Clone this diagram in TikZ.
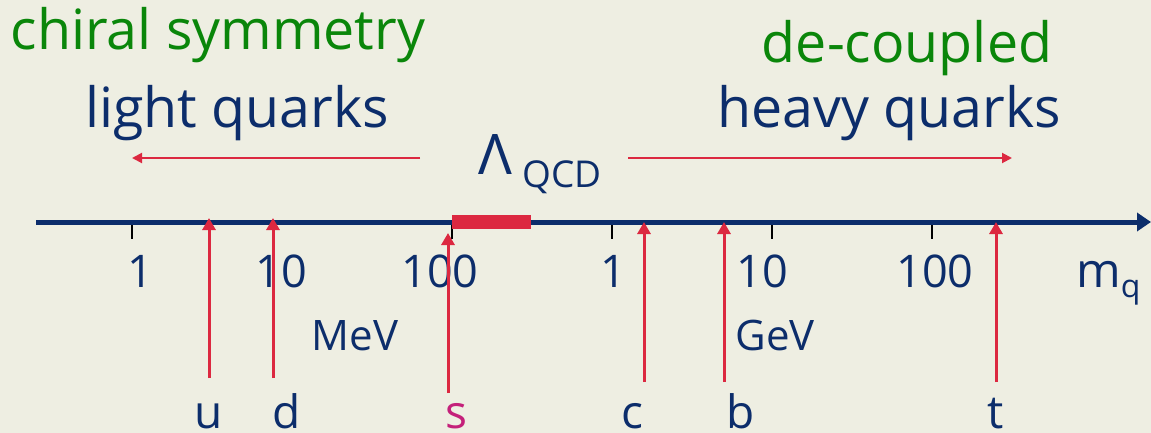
\documentclass[tikz,border=0pt]{standalone}
\usepackage{fontspec}
\setmainfont{Open Sans}
\usetikzlibrary{arrows.meta}
\definecolor{bg}{RGB}{238,238,226}
\definecolor{navy}{RGB}{12,45,107}
\definecolor{dgreen}{RGB}{10,134,10}
\definecolor{qred}{RGB}{220,40,64}
\definecolor{qmag}{RGB}{196,32,122}
\newcommand{\fs}[1]{\fontsize{#1}{#1}\selectfont}
\tikzset{
  axisline/.style={draw=navy, line width=5pt, -{Triangle[length=14pt,width=18pt]}},
  tickmark/.style={draw=black, line width=2.5pt},
  qarrow/.style={draw=qred, line width=3pt, -{Triangle[length=12pt,width=13pt]}},
  dirarrow/.style={draw=qred, line width=2pt, -{Triangle[length=10pt,width=10pt]}},
  txt/.style={inner sep=0pt, anchor=base, text=navy},
  num/.style={txt, font=\fs{45}},
  qlabel/.style={txt, font=\fs{46}},
  big/.style={txt, font=\fs{55.5}},
}
\begin{document}
\begin{tikzpicture}[x=1pt,y=-1pt]
\fill[bg] (0,0) rectangle (1151,433);
\useasboundingbox (0,0) rectangle (1151,433);

% headings
\node[big, text=dgreen] (chiral) at (218,50) {chiral symmetry};
\node[big] (light) at (237,128) {light quarks};
\node[big, text=dgreen] (decoupled) at (907,63) {de-coupled};
\node[big] (heavy) at (889,128) {heavy quarks};

% Lambda QCD
\node[txt, font=\fs{56}] (lam) at (495,175) {Λ};
\node[txt, font=\fs{37}, anchor=base west] (qcd) at (522,187) {QCD};

% direction arrows
\coordinate (lA) at (420,158);
\coordinate (lB) at (132,158);
\coordinate (rA) at (628,158);
\coordinate (rB) at (1012,158);
\draw[dirarrow] (lA) -- (lB);
\draw[dirarrow] (rA) -- (rB);

% axis
\coordinate (axL) at (36,222);
\coordinate (axR) at (1151,222);
\foreach \x [count=\i] in {132,452,612,772,932}{
  \coordinate (t\i a) at (\x,222);
  \coordinate (t\i b) at (\x,239);
  \draw[tickmark] (t\i a) -- (t\i b);
}
\draw[axisline] (axL) -- (axR);
\node[fill=qred, minimum width=79pt, minimum height=14pt, inner sep=0pt] (bar) at (491.5,222) {};

% numbers
\node[num] (n1) at (140,287) {1};
\node[num] (n10) at (281,287) {10};
\node[num] (n100) at (440,287) {100};
\node[num] (g1) at (613,287) {1};
\node[num] (g10) at (762,287) {10};
\node[num] (g100) at (935,287) {100};
\node[txt, font=\fs{42}] (mev) at (355,350) {MeV};
\node[txt, font=\fs{42}] (gev) at (775,350) {GeV};
\node[txt, font=\fs{48}, anchor=base west] (mq) at (1076,287) {m\raisebox{-10pt}{\fs{32}q}};

% quark arrows
\foreach \q/\x/\yb/\yt in {u/209/378/218, d/273/378/218, s/448/393/233, c/644/382/222, b/724/382/222, t/996/382/222}{
  \coordinate (\q0) at (\x,\yb);
  \coordinate (\q1) at (\x,\yt);
  \draw[qarrow] (\q0) -- (\q1);
}

% quark labels
\node[qlabel] (lu) at (209,428) {u};
\node[qlabel] (ld) at (287,428) {d};
\node[qlabel, text=qmag] (ls) at (456,428) {s};
\node[qlabel] (lc) at (632,428) {c};
\node[qlabel] (lb) at (741,428) {b};
\node[qlabel] (lt) at (996,428) {t};
\end{tikzpicture}
\end{document}
